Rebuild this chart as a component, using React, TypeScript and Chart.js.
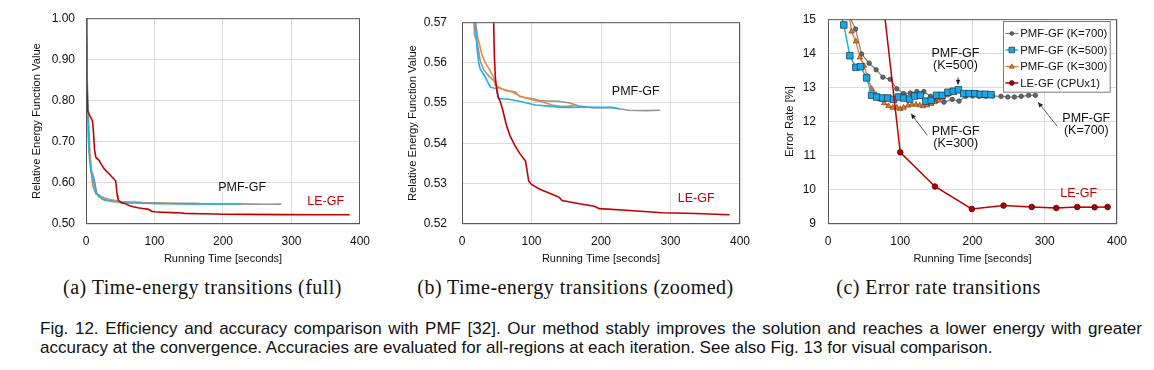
import React, { useEffect, useRef } from 'react';
import { Chart, registerables } from 'chart.js';
Chart.register(...registerables);

const FONT = '"Liberation Sans", Arial, Helvetica, sans-serif';

// ---------- Data: energy transitions (charts a, b) ----------
const k700Time = [0, 1, 2, 4, 6, 8, 10, 12, 14, 16, 18, 21.6, 26.4, 31.2, 38.4, 45.6, 50.4, 62.4, 76.7, 83, 93, 100.7, 112, 120, 139, 155, 169, 188, 217, 240, 264, 285];
const k700Energy = [0.96, 0.9, 0.84, 0.74, 0.66, 0.63, 0.62, 0.61, 0.59, 0.575, 0.5668, 0.5652, 0.5603, 0.5583, 0.5567, 0.5555, 0.5539, 0.5531, 0.5527, 0.5516, 0.5512, 0.5511, 0.5506, 0.5505, 0.5504, 0.55, 0.5492, 0.5488, 0.5488, 0.5482, 0.5481, 0.5482];

const k500Time = [0, 1, 2, 4, 5, 7.2, 9.6, 12, 14.4, 17, 19.2, 21.6, 24, 26.4, 31.2, 36, 40.8, 50.4, 52.8, 67, 86, 105.5, 124.7, 144, 158, 169, 193, 217, 227];
const k500Energy = [0.94, 0.88, 0.8, 0.7, 0.66, 0.63, 0.614, 0.595, 0.573, 0.572, 0.57, 0.5636, 0.5599, 0.5583, 0.5571, 0.5555, 0.5539, 0.5535, 0.5511, 0.5509, 0.5503, 0.5495, 0.5492, 0.5489, 0.5489, 0.549, 0.5489, 0.5489, 0.5485];

const k300Time = [0, 1, 2, 4, 6, 8, 9.6, 12, 14.4, 17, 19.2, 23, 28.8, 33.6, 40.8, 45.6, 48, 57.6, 72, 86, 100.7, 115, 129.5, 144, 153.5, 160, 165];
const k300Energy = [1.0, 0.9, 0.8, 0.68, 0.665, 0.62, 0.595, 0.583, 0.576, 0.572, 0.57, 0.566, 0.5619, 0.5599, 0.5579, 0.5563, 0.5543, 0.5535, 0.5527, 0.5515, 0.5508, 0.5503, 0.5495, 0.5491, 0.5492, 0.5494, 0.5495];

const leTime = [0, 1, 2.4, 4.8, 9.6, 11, 12.5, 14.4, 19.3, 22, 26.5, 30, 33.7, 38, 43.3, 45.6, 46.5, 48, 50.4, 52, 55.2, 58.5, 64, 69, 76, 83, 91.4, 93, 96, 100, 112, 126, 140, 144, 169, 190.5, 197.6, 236, 288, 336, 385];
const leEnergy = [1.0, 0.85, 0.775, 0.766, 0.75, 0.72, 0.68, 0.662, 0.654, 0.646, 0.634, 0.628, 0.622, 0.614, 0.605, 0.57, 0.5619, 0.5563, 0.5527, 0.5515, 0.5503, 0.5483, 0.5444, 0.5419, 0.5395, 0.5375, 0.5356, 0.5339, 0.5306, 0.5298, 0.5286, 0.5276, 0.5266, 0.5258, 0.525, 0.5244, 0.5238, 0.5234, 0.5228, 0.5226, 0.5223];

// ---------- Data: error rate transitions (chart c) ----------
const k700ErrTime = [20, 38.2, 46.5, 57, 66.6, 75.9, 86, 95.3, 104.7, 114, 123, 132.6, 141.9, 151, 160.5, 172, 181.4, 190.7, 200, 209.3, 218.6, 228, 239.5, 248.8, 258, 267.4, 277.7, 287];
const k700Err = [15.5, 14.71, 13.98, 13.71, 13.52, 13.3, 13.24, 12.96, 12.82, 12.84, 12.88, 12.88, 12.74, 12.62, 12.57, 12.65, 12.6, 12.74, 12.75, 12.74, 12.74, 12.75, 12.74, 12.72, 12.72, 12.74, 12.77, 12.77];

const k500ErrTime = [14, 21.9, 30.2, 38.6, 45.1, 53.5, 60.5, 67.4, 75.8, 82.8, 90.7, 97.7, 104.7, 113, 120, 127.9, 135.3, 142.8, 150.2, 158.1, 166, 173.5, 180.5, 187.9, 195.3, 203.3, 210.7, 217.7, 225.6];
const k500Err = [15.5, 14.83, 13.93, 13.59, 13.61, 13.28, 12.77, 12.72, 12.69, 12.69, 12.65, 12.72, 12.69, 12.66, 12.75, 12.77, 12.6, 12.62, 12.77, 12.77, 12.86, 12.89, 12.93, 12.82, 12.82, 12.82, 12.8, 12.8, 12.79];

const k300ErrTime = [26, 32.6, 38.6, 44.2, 49.8, 54.4, 60.5, 66.5, 72.1, 77.7, 83.7, 89.8, 95.3, 100, 104.7, 110.7, 116.3, 121.9, 127, 131.6, 137.2, 142.8, 147.4, 153.5, 158.1, 164.2];
const k300Err = [15.6, 14.64, 14.35, 13.88, 13.64, 13.32, 12.96, 12.79, 12.65, 12.54, 12.46, 12.41, 12.41, 12.37, 12.41, 12.47, 12.5, 12.5, 12.48, 12.45, 12.48, 12.52, 12.57, 12.62, 12.7, 12.77];

const leErrTime = [50, 100, 148, 199, 243, 282, 316, 345, 369, 387];
const leErr = [20.4, 11.1, 10.1, 9.44, 9.54, 9.5, 9.47, 9.5, 9.49, 9.5];

// ---------- Labels / ticks ----------
const seriesLabels = ['PMF-GF (K=700)', 'PMF-GF (K=500)', 'PMF-GF (K=300)', 'LE-GF (CPUx1)'];
const xTicks = [0, 100, 200, 300, 400];
const yTicksFull = [0.5, 0.6, 0.7, 0.8, 0.9, 1.0];
const yTicksZoom = [0.52, 0.53, 0.54, 0.55, 0.56, 0.57];
const yTicksErr = [9, 10, 11, 12, 13, 14, 15];
const xTitle = 'Running Time [seconds]';
const yTitleEnergy = 'Relative Energy Function Value';
const yTitleErr = 'Error Rate [%]';
const subCaptions = ['(a) Time-energy transitions (full)', '(b) Time-energy transitions (zoomed)', '(c) Error rate transitions'];
const figCaption1 = 'Fig. 12. Efficiency and accuracy comparison with PMF [32]. Our method stably improves the solution and reaches a lower energy with greater';
const figCaption2 = 'accuracy at the convergence. Accuracies are evaluated for all-regions at each iteration. See also Fig. 13 for visual comparison.';

const COLORS = { k700: '#959595', k500: '#1db2ee', k300: '#ef883a', le: '#c00000' };

const pts = (t: number[], v: number[]) => t.map((x, i) => ({ x, y: v[i] }));

type Note = { lines: string[]; x: number; y: number; color: string };
type Arrow = { x1: number; y1: number; x2: number; y2: number };

function drawMarker(ctx: CanvasRenderingContext2D, style: string, x: number, y: number, r: number) {
  ctx.beginPath();
  if (style === 'rect') {
    const s = r * Math.SQRT1_2;
    ctx.rect(x - s, y - s, 2 * s, 2 * s);
  } else if (style === 'triangle') {
    ctx.moveTo(x, y - r);
    ctx.lineTo(x + r * 0.9, y + r * 0.6);
    ctx.lineTo(x - r * 0.9, y + r * 0.6);
    ctx.closePath();
  } else {
    ctx.arc(x, y, r, 0, Math.PI * 2);
  }
  ctx.fill();
  ctx.stroke();
}

const overlayPlugin = {
  id: 'overlay',
  afterDatasetsDraw(chart: any, _args: any, opts: any) {
    const { ctx, chartArea: a, scales } = chart;
    const sx = scales.x, sy = scales.y;
    ctx.save();
    // plot frame
    ctx.strokeStyle = '#595959';
    ctx.lineWidth = 1;
    ctx.strokeRect(a.left + 0.5, a.top + 0.5, a.right - a.left - 1, a.bottom - a.top - 1);
    // arrows
    (opts.arrows || []).forEach((ar: Arrow) => {
      const x1 = sx.getPixelForValue(ar.x1), y1 = sy.getPixelForValue(ar.y1);
      const x2 = sx.getPixelForValue(ar.x2), y2 = sy.getPixelForValue(ar.y2);
      ctx.strokeStyle = '#333';
      ctx.fillStyle = '#222';
      ctx.lineWidth = 0.8;
      ctx.beginPath();
      ctx.moveTo(x1, y1);
      ctx.lineTo(x2, y2);
      ctx.stroke();
      const ang = Math.atan2(y2 - y1, x2 - x1);
      const L = 5, W = 2.3;
      ctx.beginPath();
      ctx.moveTo(x2, y2);
      ctx.lineTo(x2 - L * Math.cos(ang) + W * Math.sin(ang), y2 - L * Math.sin(ang) - W * Math.cos(ang));
      ctx.lineTo(x2 - L * Math.cos(ang) - W * Math.sin(ang), y2 - L * Math.sin(ang) + W * Math.cos(ang));
      ctx.closePath();
      ctx.fill();
    });
    // notes
    ctx.font = `12.5px ${FONT}`;
    ctx.textAlign = 'center';
    ctx.textBaseline = 'middle';
    (opts.notes || []).forEach((n: Note) => {
      ctx.fillStyle = n.color;
      const x = sx.getPixelForValue(n.x);
      const y = sy.getPixelForValue(n.y);
      n.lines.forEach((ln, i) => ctx.fillText(ln, x, y + i * 12));
    });
    // legend box
    if (opts.legend) {
      const L = opts.legend;
      const bx = a.right - L.right - L.width;
      const by = a.top + L.top;
      ctx.fillStyle = '#fff';
      ctx.fillRect(bx, by, L.width, L.height);
      ctx.strokeStyle = '#7a7a7a';
      ctx.lineWidth = 1;
      ctx.strokeRect(Math.round(bx) + 0.5, Math.round(by) + 0.5, L.width, L.height);
      ctx.font = `11.3px ${FONT}`;
      ctx.textAlign = 'left';
      ctx.textBaseline = 'middle';
      chart.data.datasets.forEach((ds: any, i: number) => {
        const y = by + L.first + i * L.step;
        ctx.strokeStyle = ds.borderColor;
        ctx.lineWidth = ds.borderWidth;
        ctx.beginPath();
        ctx.moveTo(bx + 2, y);
        ctx.lineTo(bx + 15, y);
        ctx.stroke();
        ctx.fillStyle = ds.pointBackgroundColor;
        ctx.strokeStyle = ds.pointBorderColor;
        ctx.lineWidth = ds.pointBorderWidth;
        drawMarker(ctx, ds.pointStyle, bx + 8.5, y, ds.pointRadius * 0.85);
        ctx.fillStyle = '#111';
        ctx.fillText(ds.label, bx + 17, y + 0.5);
      });
    }
    ctx.restore();
  },
};

function makeOptions(p: {
  yMin: number; yMax: number; yStep: number; yDecimals: number; yWidth: number; yTickPad: number;
  yTitle: string; yTitlePad: number; top: number; right: number; overlay: any;
}) {
  return {
    responsive: false,
    animation: false as const,
    layout: { padding: { left: 0, top: p.top, right: p.right, bottom: 0 } },
    plugins: { legend: { display: false }, tooltip: { enabled: false }, overlay: p.overlay },
    scales: {
      x: {
        type: 'linear' as const,
        min: xTicks[0],
        max: xTicks[xTicks.length - 1],
        ticks: { stepSize: xTicks[1] - xTicks[0], padding: 10, color: '#111', font: { family: FONT, size: 12 } },
        grid: { color: '#dcdcdc', lineWidth: 1, drawTicks: false },
        border: { display: false },
        title: { display: true, text: xTitle, color: '#111', font: { family: FONT, size: 11 }, padding: { top: 0, bottom: 4 } },
        afterFit: (s: any) => { s.height = 46; },
      },
      y: {
        type: 'linear' as const,
        min: p.yMin,
        max: p.yMax,
        ticks: {
          stepSize: p.yStep,
          padding: p.yTickPad,
          color: '#111',
          font: { family: FONT, size: 12 },
          callback: (v: any) => Number(v).toFixed(p.yDecimals),
        },
        grid: { color: '#dcdcdc', lineWidth: 1, drawTicks: false },
        border: { display: false },
        title: { display: true, text: p.yTitle, color: '#111', font: { family: FONT, size: 11.2 }, padding: { top: p.yTitlePad, bottom: 0 } },
        afterFit: (s: any) => { s.width = p.yWidth; },
      },
    },
  };
}

function energyDatasets() {
  return [
    { label: seriesLabels[0], data: pts(k700Time, k700Energy), borderColor: COLORS.k700, borderWidth: 1.6, pointRadius: 0, order: 3 },
    { label: seriesLabels[1], data: pts(k500Time, k500Energy), borderColor: COLORS.k500, borderWidth: 1.6, pointRadius: 0, order: 1 },
    { label: seriesLabels[2], data: pts(k300Time, k300Energy), borderColor: COLORS.k300, borderWidth: 1.6, pointRadius: 0, order: 2 },
    { label: seriesLabels[3], data: pts(leTime, leEnergy), borderColor: COLORS.le, borderWidth: 1.6, pointRadius: 0, order: 0 },
  ];
}

function errorDatasets() {
  return [
    {
      label: seriesLabels[0], data: pts(k700ErrTime, k700Err), borderColor: '#808080', borderWidth: 1.2,
      pointStyle: 'circle', pointRadius: 2.3, pointBackgroundColor: '#666', pointBorderColor: '#3a3a3a', pointBorderWidth: 0.6, order: 3,
    },
    {
      label: seriesLabels[1], data: pts(k500ErrTime, k500Err), borderColor: '#12aef0', borderWidth: 1.4,
      pointStyle: 'rect', pointRadius: 4.6, pointBackgroundColor: '#1aa8e4', pointBorderColor: '#1d3d57', pointBorderWidth: 0.8, order: 1,
    },
    {
      label: seriesLabels[2], data: pts(k300ErrTime, k300Err), borderColor: '#ed7d31', borderWidth: 1.4,
      pointStyle: 'triangle', pointRadius: 3.2, pointBackgroundColor: '#e07a2e', pointBorderColor: '#6b3510', pointBorderWidth: 0.6, order: 2,
    },
    {
      label: seriesLabels[3], data: pts(leErrTime, leErr), borderColor: '#c00000', borderWidth: 1.5,
      pointStyle: 'circle', pointRadius: 2.8, pointBackgroundColor: '#b30000', pointBorderColor: '#4d0000', pointBorderWidth: 0.8, order: 0,
    },
  ];
}

function useChart(ref: React.RefObject<HTMLCanvasElement>, build: () => any) {
  useEffect(() => {
    if (!ref.current) return;
    const chart = new Chart(ref.current, build());
    return () => chart.destroy();
  }, []);
}

export default function App() {
  const refA = useRef<HTMLCanvasElement>(null);
  const refB = useRef<HTMLCanvasElement>(null);
  const refC = useRef<HTMLCanvasElement>(null);

  useChart(refA, () => ({
    type: 'line',
    data: { datasets: energyDatasets() },
    options: makeOptions({
      yMin: yTicksFull[0], yMax: yTicksFull[yTicksFull.length - 1], yStep: 0.1, yDecimals: 2,
      yWidth: 86, yTickPad: 11, yTitle: yTitleEnergy, yTitlePad: 30.5, top: 17, right: 17,
      overlay: {
        notes: [
          { lines: ['PMF-GF'], x: 228, y: 0.589, color: '#111' },
          { lines: ['LE-GF'], x: 350, y: 0.5556, color: '#c00000' },
        ],
      },
    }),
    plugins: [overlayPlugin],
  }));

  useChart(refB, () => ({
    type: 'line',
    data: { datasets: energyDatasets() },
    options: makeOptions({
      yMin: yTicksZoom[0], yMax: yTicksZoom[yTicksZoom.length - 1], yStep: 0.01, yDecimals: 2,
      yWidth: 82, yTickPad: 15, yTitle: yTitleEnergy, yTitlePad: 26.5, top: 17, right: 30,
      overlay: {
        notes: [
          { lines: ['PMF-GF'], x: 250, y: 0.5529, color: '#111' },
          { lines: ['LE-GF'], x: 337, y: 0.5263, color: '#c00000' },
        ],
      },
    }),
    plugins: [overlayPlugin],
  }));

  useChart(refC, () => ({
    type: 'line',
    data: { datasets: errorDatasets() },
    options: makeOptions({
      yMin: yTicksErr[0], yMax: yTicksErr[yTicksErr.length - 1], yStep: 1, yDecimals: 0,
      yWidth: 58, yTickPad: 12, yTitle: yTitleErr, yTitlePad: 13.5, top: 18, right: 37,
      overlay: {
        notes: [
          { lines: ['PMF-GF', '(K=500)'], x: 176.4, y: 13.98, color: '#111' },
          { lines: ['PMF-GF', '(K=300)'], x: 176.8, y: 11.7, color: '#111' },
          { lines: ['PMF-GF', '(K=700)'], x: 357.5, y: 12.09, color: '#111' },
          { lines: ['LE-GF'], x: 347, y: 9.9, color: '#c00000' },
        ],
        arrows: [
          { x1: 180, y1: 13.3, x2: 180, y2: 13.08 },
          { x1: 137.3, y1: 11.6, x2: 115, y2: 12.23 },
          { x1: 317.3, y1: 11.86, x2: 290.8, y2: 12.57 },
        ],
        legend: { right: 7, top: 1.3, width: 106.7, height: 70.7, first: 13, step: 16.5 },
      },
    }),
    plugins: [overlayPlugin],
  }));

  const capStyle: React.CSSProperties = {
    position: 'absolute', top: 275, height: 24, lineHeight: '24px', textAlign: 'center', whiteSpace: 'nowrap',
    fontFamily: '"Liberation Serif", "Times New Roman", serif', fontSize: 20, letterSpacing: 0.45, color: '#111',
  };
  const figStyle: React.CSSProperties = {
    position: 'absolute', left: 40, width: 1102, height: 19, lineHeight: '19px', whiteSpace: 'nowrap',
    fontFamily: FONT, fontSize: 17, color: '#111',
  };

  return (
    <div style={{ position: 'absolute', left: 0, top: 0, width: 1154, height: 370, background: '#fff', overflow: 'hidden' }}>
      <canvas ref={refA} width={380} height={270} style={{ position: 'absolute', left: 0, top: 0, width: 380, height: 270 }} />
      <canvas ref={refB} width={390} height={270} style={{ position: 'absolute', left: 380, top: 0, width: 390, height: 270 }} />
      <canvas ref={refC} width={384} height={270} style={{ position: 'absolute', left: 770, top: 0, width: 384, height: 270 }} />
      <div style={{ ...capStyle, left: 202.5 - 200, width: 400 }}>{subCaptions[0]}</div>
      <div style={{ ...capStyle, left: 575.5 - 200, width: 400 }}>{subCaptions[1]}</div>
      <div style={{ ...capStyle, left: 938.5 - 200, width: 400 }}>{subCaptions[2]}</div>
      <div style={{ ...figStyle, top: 318.5, textAlign: 'justify', textAlignLast: 'justify' as any, whiteSpace: 'normal', overflow: 'hidden' }}>{figCaption1}</div>
      <div style={{ ...figStyle, top: 337.5 }}>{figCaption2}</div>
    </div>
  );
}
